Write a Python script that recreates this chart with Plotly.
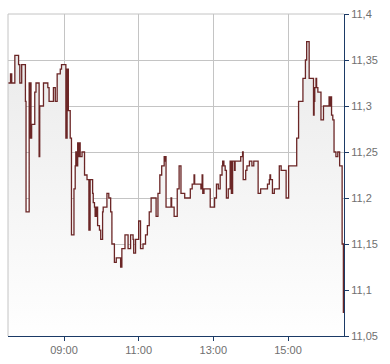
import plotly.graph_objects as go

day = "2024-01-15"
times = ["07:30","07:34","07:36","07:41","07:47","07:49","07:52","07:58","07:59","08:04",
         "08:05","08:06","08:07","08:08","08:13","08:15","08:20","08:21","08:27","08:34",
         "08:36","08:43","08:46","08:49","08:54","08:56","09:03","09:05","09:07","09:10",
         "09:12","09:16","09:18","09:19","09:20","09:22","09:24","09:25","09:26","09:29",
         "09:33","09:37","09:40","09:42","09:46","09:47","09:49","09:50","09:52","09:54",
         "09:57","09:59","10:02","10:03","10:09","10:12","10:15","10:17","10:21","10:24",
         "10:31","10:33","10:38","10:43","10:47","10:51","10:52","10:55","11:00","11:03",
         "11:07","11:11","11:14","11:17","11:20","11:28","11:31","11:34","11:37","11:41",
         "11:42","11:43","11:44","11:52","11:53","11:57","12:02","12:05","12:08","12:14",
         "12:23","12:26","12:29","12:30","12:40","12:42","12:43","12:45","12:55","13:02",
         "13:05","13:08","13:11","13:14","13:15","13:17","13:19","13:21","13:24","13:27",
         "13:29","13:31","13:34","13:35","13:44","13:47","13:48","13:52","13:54","13:58",
         "14:02","14:05","14:12","14:16","14:27","14:30","14:31","14:32","14:35","14:38",
         "14:46","14:49","14:57","15:01","15:14","15:17","15:24","15:28","15:30","15:34",
         "15:41","15:42","15:43","15:45","15:46","15:48","15:53","15:57","16:06","16:07",
         "16:08","16:10","16:12","16:14","16:17","16:20","16:23","16:27","16:29"]
prices = [11.325,11.335,11.325,11.355,11.345,11.325,11.345,11.305,11.185,11.325,
          11.265,11.325,11.265,11.28,11.315,11.325,11.245,11.3,11.325,11.32,
          11.305,11.32,11.305,11.335,11.34,11.345,11.265,11.34,11.295,11.265,
          11.16,11.21,11.235,11.25,11.235,11.26,11.245,11.26,11.245,11.25,
          11.225,11.22,11.165,11.22,11.205,11.195,11.19,11.18,11.19,11.17,
          11.165,11.155,11.185,11.19,11.205,11.2,11.185,11.15,11.13,11.135,
          11.125,11.145,11.16,11.145,11.16,11.155,11.14,11.155,11.175,11.145,
          11.15,11.16,11.17,11.185,11.2,11.18,11.205,11.225,11.235,11.245,
          11.24,11.245,11.19,11.2,11.19,11.18,11.21,11.235,11.205,11.2,
          11.21,11.215,11.225,11.215,11.21,11.225,11.205,11.21,11.19,11.2,
          11.215,11.21,11.225,11.235,11.24,11.235,11.23,11.2,11.21,11.24,
          11.205,11.24,11.23,11.24,11.245,11.25,11.22,11.23,11.235,11.24,
          11.235,11.24,11.205,11.21,11.215,11.22,11.225,11.22,11.205,11.21,
          11.235,11.23,11.2,11.235,11.265,11.305,11.33,11.35,11.37,11.33,
          11.29,11.305,11.32,11.33,11.32,11.315,11.285,11.3,11.31,11.3,
          11.31,11.29,11.285,11.25,11.245,11.25,11.235,11.15,11.075]
assert len(times) == len(prices)

x_ticks = ["09:00", "11:00", "13:00", "15:00"]
y_ticks = [11.05, 11.1, 11.15, 11.2, 11.25, 11.3, 11.35, 11.4]
y_labels = ["11,05", "11,1", "11,15", "11,2", "11,25", "11,3", "11,35", "11,4"]

xs = [f"{day} {t}" for t in times]

fig = go.Figure()
fig.add_trace(go.Scatter(
    x=xs, y=prices, mode="lines", line=dict(color="#6b2626", width=1.3, shape="hv"),
    fill="tozeroy",
    fillgradient=dict(type="vertical", colorscale=[[0, "#ffffff"], [1, "#e8e8e8"]],
                      start=11.05, stop=11.4),
    hoverinfo="skip", showlegend=False,
))

axis_blue = "#1b3a66"
fig.update_layout(
    width=390, height=364,
    margin=dict(l=8, r=46, t=11, b=24),
    paper_bgcolor="white", plot_bgcolor="white",
    font=dict(family="Liberation Sans, Arial, sans-serif", size=11, color="#6f6f6f"),
    xaxis=dict(
        type="date", range=[f"{day} 07:30", f"{day} 16:30"],
        tickvals=[f"{day} {t}" for t in x_ticks], ticktext=x_ticks,
        showgrid=True, gridcolor="#c4c4c4", gridwidth=1,
        showline=True, linecolor=axis_blue, linewidth=1,
        ticks="outside", ticklen=4, tickcolor=axis_blue, tickwidth=1,
        zeroline=False, fixedrange=True,
    ),
    yaxis=dict(
        side="right", range=[11.05, 11.4],
        tickvals=y_ticks, ticktext=y_labels,
        showgrid=True, gridcolor="#c4c4c4", gridwidth=1,
        showline=True, linecolor=axis_blue, linewidth=1,
        ticks="outside", ticklen=4, tickcolor=axis_blue, tickwidth=1,
        zeroline=False, fixedrange=True,
    ),
    shapes=[
        dict(type="line", xref="paper", yref="paper", x0=0, x1=1, y0=1, y1=1,
             line=dict(color="#c4c4c4", width=1)),
        dict(type="line", xref="paper", yref="paper", x0=0, x1=0, y0=0, y1=1,
             line=dict(color="#c4c4c4", width=1)),
    ],
)

fig.write_html("out.html")
